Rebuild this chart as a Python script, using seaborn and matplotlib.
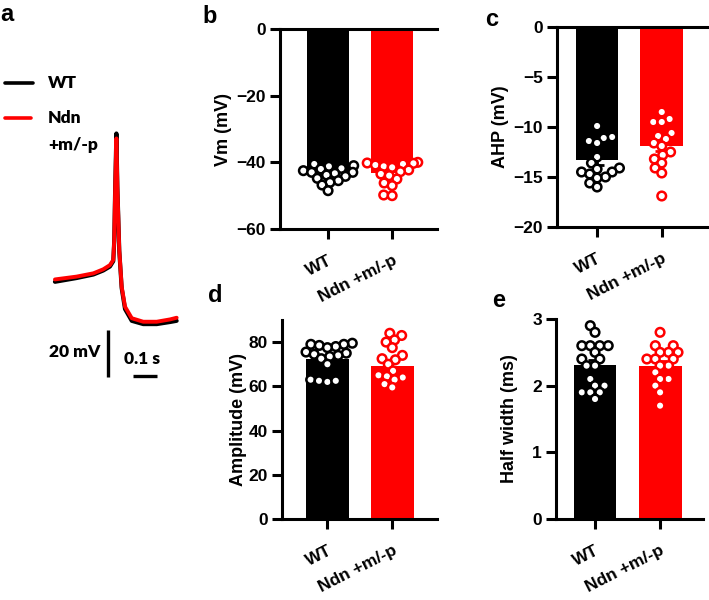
import matplotlib
matplotlib.use("Agg")
import matplotlib.pyplot as plt
import numpy as np
import pandas as pd
import seaborn as sns

# groups
groups = ["WT", "Ndn +m/-p"]
colors = {"WT": "#000000", "Ndn +m/-p": "#ff0000"}

# b: resting membrane potential
vm_mean = [-42.8, -43.2]
vm_sem = [0.6, 0.7]
vm_wt = [-40.5, -41.0, -41.2, -41.8, -42.0, -42.5, -43.0, -43.0, -43.3, -43.8,
         -44.2, -44.8, -45.5, -46.0, -46.8, -48.5]
vm_ndn = [-40.0, -40.2, -40.3, -40.5, -40.8, -41.2, -41.5, -42.3, -42.8, -43.5,
          -44.0, -45.0, -46.2, -47.0, -49.8, -50.0]

# c: AHP
ahp_mean = [-13.3, -11.9]
ahp_sem = [0.45, 0.5]
ahp_wt = [-9.9, -11.0, -11.1, -11.4, -11.6, -13.0, -13.6, -14.1, -14.2, -14.5,
          -14.5, -14.7, -15.0, -15.1, -15.6, -16.0]
ahp_ndn = [-8.5, -9.2, -9.5, -9.5, -10.6, -10.9, -11.2, -11.6, -11.9, -12.5,
           -12.8, -13.2, -13.6, -14.1, -14.6, -16.9]

# d: amplitude
amp_mean = [72.3, 69.4]
amp_sem = [1.5, 2.2]
amp_wt = [79.5, 79.0, 79.0, 78.5, 78.0, 77.5, 75.5, 75.0, 74.5, 74.0, 73.5,
          72.5, 70.0, 63.0, 62.5, 62.0, 62.5]
amp_ndn = [84.0, 83.0, 81.0, 80.0, 77.5, 74.0, 72.5, 72.0, 70.0, 67.0, 65.0,
           64.5, 64.0, 63.0, 61.0, 59.5]

# e: half width
hw_mean = [2.31, 2.30]
hw_sem = [0.07, 0.07]
hw_wt = [2.9, 2.8, 2.6, 2.6, 2.6, 2.6, 2.5, 2.4, 2.4, 2.3, 2.3, 2.1, 2.0, 2.0,
         1.9, 1.9, 1.9, 1.8]
hw_ndn = [2.8, 2.6, 2.6, 2.5, 2.5, 2.5, 2.4, 2.4, 2.4, 2.3, 2.3, 2.2, 2.1, 2.1,
          2.0, 1.9, 1.7]

# a: example action potential traces (ms, mV)
trace_t = [0, 90, 160, 201, 229, 243, 247, 251, 256, 260, 268, 278, 292, 320,
           368, 424, 480, 507]
trace_wt = [-46.6, -45.0, -43.5, -41.8, -40.1, -37.8, -29.2, -6.3, 16.5, -6.3,
            -33.5, -49.3, -58.2, -63.2, -64.6, -64.6, -63.7, -63.2]
trace_ndn = [-45.6, -44.4, -43.0, -41.3, -39.5, -37.3, -28.8, -6.1, 14.4, -6.1,
             -33.1, -48.7, -57.2, -62.1, -63.6, -63.6, -62.6, -61.9]

sns.set_theme(style="ticks")
plt.rcParams["font.family"] = ["Liberation Sans", "DejaVu Sans"]
plt.rcParams["font.weight"] = "bold"
plt.rcParams["axes.labelweight"] = "bold"
plt.rcParams["axes.linewidth"] = 2.2
plt.rcParams["axes.edgecolor"] = "black"
plt.rcParams["axes.labelcolor"] = "black"
plt.rcParams["text.color"] = "black"
plt.rcParams["xtick.color"] = "black"
plt.rcParams["ytick.color"] = "black"

W, H = 709, 600
fig = plt.figure(figsize=(W / 100, H / 100), dpi=100)


def px_axes(left, top, right, bottom):
    return fig.add_axes([left / W, 1 - bottom / H, (right - left) / W, (bottom - top) / H])


swarms = []


def bar_panel(ax, means, sems, wt, ndn, ylabel, ylim, yticks, xlim, top_line, lpad):
    ax.set_xlim(*xlim)
    ax.set_ylim(*ylim)
    sns.barplot(x=groups, y=means, hue=groups, palette=colors, width=0.66,
                errorbar=None, legend=False, ax=ax, saturation=1, linewidth=0)
    for i, g in enumerate(groups):
        ax.errorbar(i, means[i], yerr=sems[i], color=colors[g], capsize=5,
                    elinewidth=2, capthick=2, zorder=2)
    df = pd.DataFrame({"group": ["WT"] * len(wt) + ["Ndn +m/-p"] * len(ndn),
                       "value": wt + ndn})
    # swarm laid out with smaller markers; enlarged after layout so they overlap
    sns.swarmplot(data=df, x="group", y="value", hue="group", palette=colors,
                  order=groups, size=5.8, linewidth=0, legend=False, ax=ax,
                  zorder=3, warn_thresh=1)
    for coll in ax.collections:
        if len(coll.get_facecolors()):
            swarms.append(coll)
    ax.set_xlim(*xlim)
    ax.set_ylim(*ylim)
    ax.set_yticks(yticks)
    ax.set_ylabel(ylabel, fontsize=13, fontweight="bold", labelpad=lpad)
    ax.set_xlabel("")
    ax.set_xticks([0, 1])
    ax.set_xticklabels(groups, rotation=27, ha="right", rotation_mode="anchor",
                       fontsize=12.5, fontweight="bold")
    ax.tick_params(axis="both", length=7, width=2.2, labelsize=12.5, pad=3)
    ax.tick_params(axis="x", pad=10, labelsize=12.5)
    ax.spines["right"].set_visible(False)
    ax.spines["top"].set_visible(top_line)
    ax.set_facecolor("white")


ax_b = px_axes(280, 29, 437, 229)
bar_panel(ax_b, vm_mean, vm_sem, vm_wt, vm_ndn, "Vm (mV)", (-60, 0),
          [0, -20, -40, -60], (-0.75, 1.70), True, 3)
ax_c = px_axes(557, 27, 707, 227)
bar_panel(ax_c, ahp_mean, ahp_sem, ahp_wt, ahp_ndn, "AHP (mV)", (-20, 0),
          [0, -5, -10, -15, -20], (-0.62, 1.70), True, 3)
ax_d = px_axes(282, 320, 437, 519)
bar_panel(ax_d, amp_mean, amp_sem, amp_wt, amp_ndn, "Amplitude (mV)", (0, 90),
          [0, 20, 40, 60, 80], (-0.70, 1.69), False, 1)
ax_e = px_axes(556, 319, 703, 519)
bar_panel(ax_e, hw_mean, hw_sem, hw_wt, hw_ndn, "Half width (ms)", (0, 3),
          [0, 1, 2, 3], (-0.60, 1.66), False, 10)

# run the swarm layout once, then freeze it and draw bigger hollow circles
fig.canvas.draw()
for coll in swarms:
    if "draw" in coll.__dict__:
        del coll.draw
    fc = coll.get_facecolors()
    coll.set_edgecolors(fc)
    coll.set_facecolors("white")
    coll.set_linewidths(1.8)
    coll.set_sizes([6.2 ** 2])

# panel a: traces
ax_a = px_axes(0, 0, 180, 600)
sns.lineplot(x=trace_t, y=trace_wt, color="black", lw=3.0, sort=False,
             estimator=None, ax=ax_a)
sns.lineplot(x=trace_t, y=trace_ndn, color="#ff0000", lw=2.8, sort=False,
             estimator=None, ax=ax_a)
ax_a.set_xlim(-229, 521)
ax_a.set_ylim(-182, 73.3)
ax_a.axis("off")
# scale bars
ax_a.plot([221, 221], [-67.1, -87.1], color="black", lw=2.4, solid_capstyle="butt")
ax_a.plot([325, 425], [-86.7, -86.7], color="black", lw=2.4, solid_capstyle="butt")
tfont = ["Lato", "DejaVu Sans"]
ax_a.text(190, -76.5, "20 mV", ha="right", va="center", fontsize=12.5,
          fontweight="heavy", family=tfont)
ax_a.text(363, -79.5, "0.1 s", ha="center", va="center", fontsize=12.5,
          fontweight="heavy", family=tfont)
# legend
fig.add_artist(plt.Line2D([5 / W, 33 / W], [1 - 83 / H] * 2, color="black", lw=2.6))
fig.add_artist(plt.Line2D([5 / W, 31 / W], [1 - 118 / H] * 2, color="#ff0000", lw=2.6))
fig.text(48 / W, 1 - 83 / H, "WT", ha="left", va="center", fontsize=12.5,
         fontweight="heavy", family=tfont)
fig.text(48 / W, 1 - 118 / H, "Ndn", ha="left", va="center", fontsize=12.5,
         fontweight="heavy", family=tfont)
fig.text(48 / W, 1 - 145 / H, "+m/-p", ha="left", va="center", fontsize=12.5,
         fontweight="heavy", family=tfont)

# panel letters
for lab, x, y in [("a", 0, 3), ("b", 202, 5), ("c", 485, 8), ("d", 208, 284), ("e", 492, 289)]:
    fig.text(x / W, 1 - y / H, lab, ha="left", va="top", fontsize=17, fontweight="bold")

fig.savefig("out.png", dpi=100, facecolor="white")
